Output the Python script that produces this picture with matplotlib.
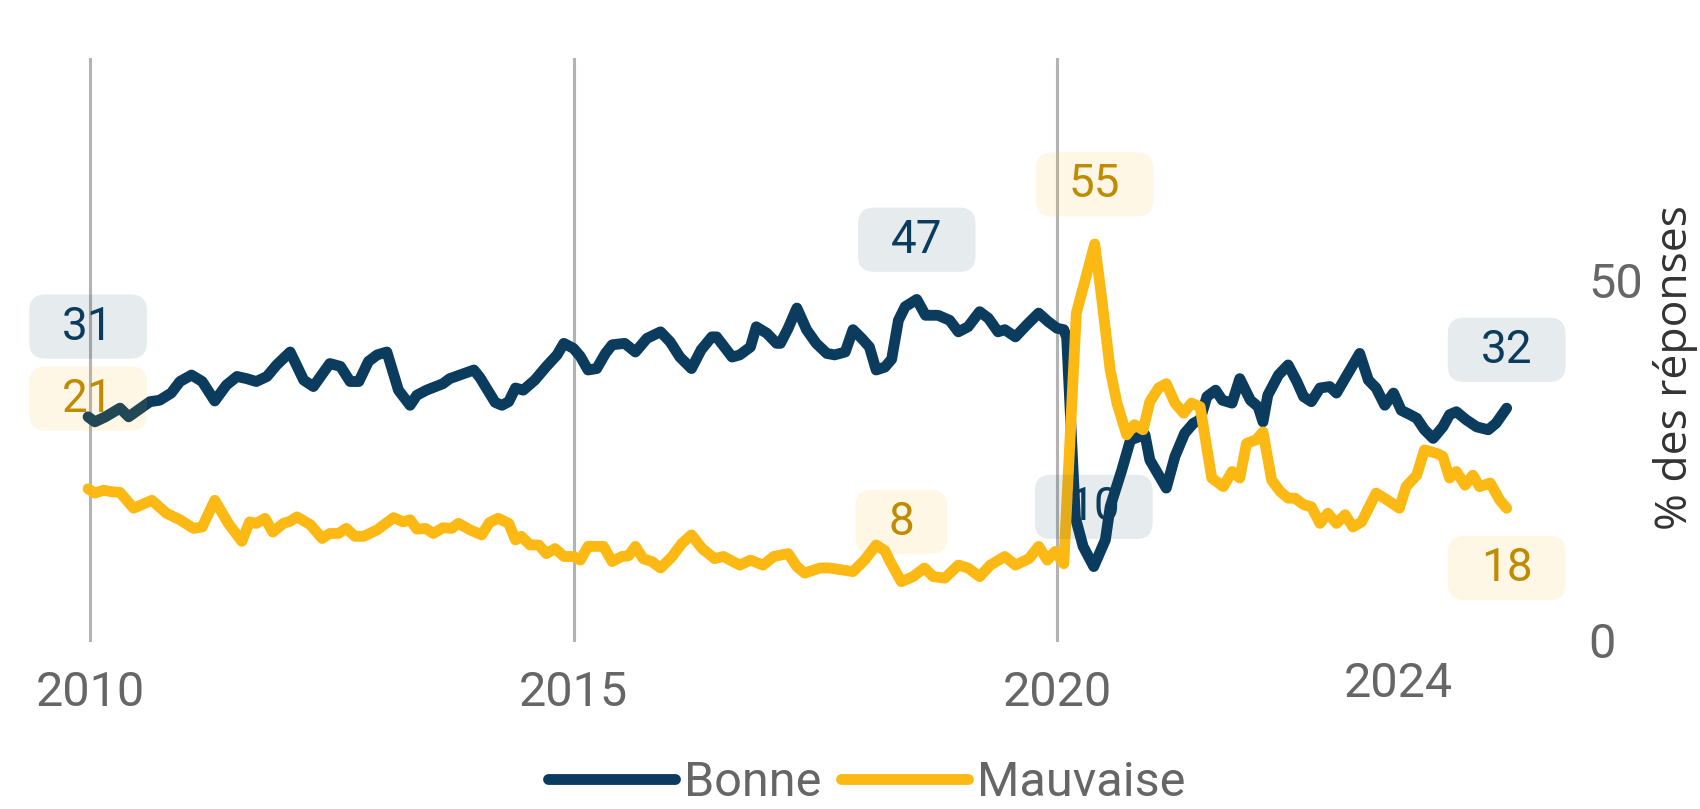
"""Opinion sur la situation : part des réponses 'Bonne' / 'Mauvaise', 2010-2024."""
import matplotlib

matplotlib.use("Agg")
import matplotlib.pyplot as plt
from matplotlib.colors import to_rgba
from matplotlib.lines import Line2D
from matplotlib.patches import BoxStyle

NAVY = "#0b3c5d"
GOLD = "#fdb913"
GOLD_TXT = "#bf8b00"
GREY = "#666666"
NUM_FONT = ["Roboto", "DejaVu Sans"]
LW = 7.8

# dates en années décimales, valeurs en % des réponses
bonne_t = [2009.98, 2010.05, 2010.16, 2010.31, 2010.40, 2010.62, 2010.72, 2010.84, 2010.93, 2011.05,
           2011.16, 2011.29, 2011.41, 2011.52, 2011.62, 2011.72, 2011.83, 2011.93, 2012.07, 2012.21,
           2012.31, 2012.48, 2012.59, 2012.69, 2012.78, 2012.88, 2012.97, 2013.07, 2013.19, 2013.31,
           2013.38, 2013.48, 2013.65, 2013.72, 2013.97, 2014.03, 2014.19, 2014.26, 2014.33, 2014.40,
           2014.48, 2014.60, 2014.72, 2014.83, 2014.90, 2015.00, 2015.07, 2015.15, 2015.24, 2015.33,
           2015.40, 2015.53, 2015.64, 2015.76, 2015.90, 2016.00, 2016.10, 2016.22, 2016.32, 2016.43,
           2016.48, 2016.64, 2016.72, 2016.83, 2016.89, 2017.00, 2017.10, 2017.14, 2017.22, 2017.31,
           2017.41, 2017.51, 2017.62, 2017.70, 2017.81, 2017.89, 2017.98, 2018.06, 2018.13, 2018.22,
           2018.29, 2018.36, 2018.43, 2018.55, 2018.64, 2018.77, 2018.89, 2018.98, 2019.08, 2019.20,
           2019.29, 2019.39, 2019.46, 2019.57, 2019.69, 2019.81, 2019.91, 2020.00, 2020.07, 2020.10,
           2020.19, 2020.27, 2020.38, 2020.50, 2020.55, 2020.67, 2020.76, 2020.91, 2020.96, 2021.13,
           2021.22, 2021.32, 2021.41, 2021.48, 2021.55, 2021.64, 2021.71, 2021.81, 2021.89, 2022.00,
           2022.08, 2022.13, 2022.18, 2022.29, 2022.39, 2022.48, 2022.55, 2022.63, 2022.72, 2022.82,
           2022.89, 2022.99, 2023.13, 2023.22, 2023.30, 2023.39, 2023.48, 2023.56, 2023.65, 2023.72,
           2023.80, 2023.89, 2023.99, 2024.06, 2024.13, 2024.23, 2024.34, 2024.46, 2024.54, 2024.65]
bonne_v = [31.0, 30.3, 31.0, 32.2, 31.0, 33.1, 33.3, 34.3, 35.9, 36.8,
           35.9, 33.2, 35.4, 36.6, 36.3, 35.9, 36.6, 38.2, 40.0, 36.1,
           35.2, 38.4, 38.0, 35.9, 35.9, 38.7, 39.6, 40.0, 34.7, 32.6,
           34.0, 34.7, 35.6, 36.3, 37.5, 36.5, 33.0, 32.6, 33.1, 35.0,
           34.7, 36.1, 38.0, 39.6, 41.2, 40.5, 39.4, 37.5, 37.7, 39.8,
           41.0, 41.2, 40.0, 41.9, 42.8, 41.4, 39.3, 37.7, 40.3, 42.1,
           42.1, 39.3, 39.6, 40.7, 43.5, 42.6, 41.2, 41.2, 43.3, 46.1,
           43.1, 41.2, 39.8, 39.6, 40.0, 43.1, 41.9, 40.7, 37.5, 37.9,
           39.0, 44.4, 46.3, 47.3, 45.1, 45.1, 44.4, 42.8, 43.5, 45.6,
           44.7, 42.8, 43.1, 42.1, 43.8, 45.4, 44.2, 43.3, 43.1, 42.0,
           17.0, 13.0, 10.2, 13.9, 18.5, 23.6, 27.8, 28.5, 25.0, 21.1,
           25.5, 28.7, 30.1, 30.6, 33.8, 34.7, 33.3, 32.9, 36.3, 33.3,
           32.4, 30.3, 34.0, 36.8, 38.2, 35.9, 33.8, 33.1, 35.0, 35.2,
           34.3, 36.6, 39.8, 36.1, 35.0, 32.6, 34.3, 31.9, 31.3, 30.8,
           29.2, 28.0, 29.6, 31.3, 31.7, 30.6, 29.6, 29.2, 30.1, 32.2]

mauvaise_t = [2009.98, 2010.05, 2010.14, 2010.22, 2010.31, 2010.45, 2010.64, 2010.79, 2010.93, 2011.07,
              2011.16, 2011.29, 2011.43, 2011.57, 2011.65, 2011.72, 2011.81, 2011.89, 2012.00, 2012.07,
              2012.14, 2012.28, 2012.40, 2012.48, 2012.57, 2012.65, 2012.74, 2012.83, 2012.97, 2013.14,
              2013.24, 2013.31, 2013.38, 2013.47, 2013.55, 2013.65, 2013.74, 2013.81, 2013.93, 2014.05,
              2014.13, 2014.22, 2014.33, 2014.40, 2014.46, 2014.55, 2014.64, 2014.72, 2014.81, 2014.90,
              2015.00, 2015.07, 2015.15, 2015.31, 2015.40, 2015.50, 2015.57, 2015.64, 2015.72, 2015.81,
              2015.90, 2016.02, 2016.12, 2016.22, 2016.33, 2016.46, 2016.55, 2016.72, 2016.83, 2016.96,
              2017.07, 2017.22, 2017.31, 2017.39, 2017.55, 2017.65, 2017.79, 2017.89, 2018.01, 2018.13,
              2018.22, 2018.27, 2018.39, 2018.51, 2018.63, 2018.72, 2018.84, 2018.98, 2019.08, 2019.20,
              2019.31, 2019.46, 2019.57, 2019.71, 2019.81, 2019.90, 2019.98, 2020.07, 2020.20, 2020.39,
              2020.46, 2020.55, 2020.62, 2020.72, 2020.80, 2020.89, 2020.96, 2021.05, 2021.13, 2021.22,
              2021.31, 2021.39, 2021.48, 2021.60, 2021.72, 2021.81, 2021.89, 2021.96, 2022.06, 2022.13,
              2022.22, 2022.31, 2022.39, 2022.46, 2022.55, 2022.63, 2022.72, 2022.80, 2022.89, 2022.98,
              2023.06, 2023.15, 2023.30, 2023.42, 2023.54, 2023.61, 2023.72, 2023.80, 2023.93, 2023.99,
              2024.06, 2024.13, 2024.22, 2024.30, 2024.37, 2024.48, 2024.58, 2024.65]
mauvaise_v = [21.0, 20.4, 20.8, 20.6, 20.5, 18.3, 19.4, 17.6, 16.7, 15.5,
              15.7, 19.4, 16.2, 13.7, 16.4, 16.2, 16.9, 15.0, 16.2, 16.5,
              17.1, 16.0, 14.1, 14.8, 14.8, 15.5, 14.4, 14.4, 15.3, 17.0,
              16.4, 16.7, 15.4, 15.5, 14.8, 15.6, 15.5, 16.2, 15.3, 14.6,
              16.3, 16.9, 16.2, 13.9, 14.4, 13.2, 13.2, 12.0, 12.7, 11.6,
              11.6, 11.1, 13.0, 13.0, 10.9, 11.6, 11.7, 13.0, 11.3, 10.9,
              10.0, 11.6, 13.4, 14.6, 12.7, 11.3, 11.6, 10.4, 11.1, 10.4,
              11.6, 12.0, 10.2, 9.3, 10.0, 10.0, 9.7, 9.5, 11.1, 13.2,
              12.4, 11.0, 8.1, 8.8, 10.0, 8.8, 8.6, 10.4, 10.0, 8.8,
              10.4, 11.6, 10.4, 11.3, 13.0, 11.1, 12.3, 10.6, 45.4, 55.0,
              47.7, 37.5, 32.9, 28.5, 29.9, 29.2, 33.1, 35.0, 35.6, 32.9,
              31.5, 32.9, 32.4, 22.5, 21.3, 23.4, 22.5, 27.3, 27.8, 28.9,
              22.2, 20.6, 19.7, 19.7, 18.8, 18.5, 16.2, 17.6, 16.2, 17.4,
              15.7, 16.4, 20.4, 19.4, 18.3, 21.3, 22.9, 26.4, 25.9, 25.5,
              22.5, 23.4, 21.5, 22.9, 21.3, 21.8, 19.4, 18.3]

year_ticks = [2010, 2015, 2020]
last_year_pos, last_year_label = 2023.53, "2024"

_round = BoxStyle.Round(pad=0, rounding_size=0.35)


def wide_box(x0, y0, width, height, mutation_size):
    # boîte arrondie plus large que haute autour des étiquettes
    px, py = 0.72 * mutation_size, 0.22 * mutation_size
    return _round(x0 - px, y0 - py, width + 2 * px, height + 2 * py, mutation_size)


def tag(ax, t, v, dy, color, txt_color):
    ax.annotate(f"{v:.0f}", xy=(t, v), xytext=(0, dy), textcoords="offset points",
                ha="center", va="center", fontsize=33, family=NUM_FONT, color=txt_color,
                bbox=dict(boxstyle=wide_box, fc=to_rgba(color, 0.1), ec="none"), zorder=5)


W, H = 1700, 809
fig = plt.figure(figsize=(W / 100, H / 100), dpi=100)
L, R, T, B = 30, 1565, 58, 642
ax = fig.add_axes([L / W, 1 - B / H, (R - L) / W, (B - T) / H])

px_year, px_unit = 96.7, 7.2
ax.set_xlim(2010 - (90 - L) / px_year, 2010 + (R - 90) / px_year)
ax.set_ylim((640 - B) / px_unit, (640 - T) / px_unit)

ax.plot(bonne_t, bonne_v, color=NAVY, lw=LW, solid_joinstyle="round",
        solid_capstyle="round", zorder=3)
ax.plot(mauvaise_t, mauvaise_v, color=GOLD, lw=LW, solid_joinstyle="round",
        solid_capstyle="round", zorder=3)

# étiquettes : début, extrêmes, fin
i_max = bonne_v.index(max(bonne_v))
i_min = bonne_v.index(min(bonne_v))
j_max = mauvaise_v.index(max(mauvaise_v))
j_min = mauvaise_v.index(min(mauvaise_v))
tag(ax, bonne_t[0], bonne_v[0], 65, NAVY, NAVY)
tag(ax, mauvaise_t[0], mauvaise_v[0], 65, GOLD, GOLD_TXT)
tag(ax, bonne_t[i_max], bonne_v[i_max], 43, NAVY, NAVY)
tag(ax, bonne_t[i_min], bonne_v[i_min], 43, NAVY, NAVY)
tag(ax, mauvaise_t[j_max], mauvaise_v[j_max], 43, GOLD, GOLD_TXT)
tag(ax, mauvaise_t[j_min], mauvaise_v[j_min], 43, GOLD, GOLD_TXT)
tag(ax, bonne_t[-1], bonne_v[-1], 42, NAVY, NAVY)
tag(ax, mauvaise_t[-1], mauvaise_v[-1], -43, GOLD, GOLD_TXT)

for s in ax.spines.values():
    s.set_visible(False)
ax.set_xticks(year_ticks, [str(y) for y in year_ticks])
ax.set_xticks([last_year_pos], [last_year_label], minor=True)
ax.grid(axis="x", which="major", color="#b3b3b3", lw=2.2)
ax.tick_params(axis="x", which="major", length=0, pad=20, labelsize=35, labelcolor=GREY)
ax.tick_params(axis="x", which="minor", length=0, pad=14, labelsize=35, labelcolor=GREY)
ax.yaxis.tick_right()
ax.set_yticks([0, 50])
ax.tick_params(axis="y", length=0, pad=17, labelsize=35, labelcolor=GREY)
for lab in ax.get_xticklabels(which="both") + ax.get_yticklabels():
    lab.set_family(NUM_FONT)

fig.text(1676 / W, 1 - 368 / H, "% des réponses", rotation=90, ha="center", va="center",
         fontsize=32, family=["Open Sans", "DejaVu Sans"], color="#333333")

handles = [Line2D([], [], color=NAVY, lw=LW, solid_capstyle="round"),
           Line2D([], [], color=GOLD, lw=LW, solid_capstyle="round")]
leg = fig.legend(handles, ["Bonne", "Mauvaise"], loc="center", bbox_to_anchor=(0.51, 1 - 783 / H),
                 ncol=2, frameon=False, handlelength=2.6, handletextpad=0.2, columnspacing=0.4,
                 prop={"family": NUM_FONT, "size": 35})
for txt in leg.get_texts():
    txt.set_color(GREY)

fig.savefig("out.png", dpi=100)
